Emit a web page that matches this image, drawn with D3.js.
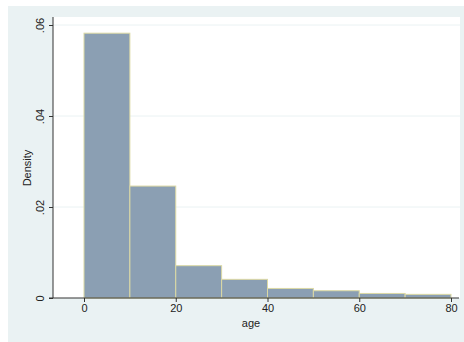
<!DOCTYPE html>
<html>
<head>
<meta charset="utf-8">
<script src="https://cdn.jsdelivr.net/npm/d3@7"></script>
<style>
  html, body { margin: 0; padding: 0; background: #ffffff; }
  svg { display: block; }
  text { font-family: "Liberation Sans", Arial, sans-serif; fill: #222; }
</style>
</head>
<body>
<svg id="chart" width="464" height="342"></svg>
<script>
// Histogram of age, bin width 10
const binStarts = [0, 10, 20, 30, 40, 50, 60, 70];
const binWidth = 10;
const densities = [0.0582, 0.0246, 0.0071, 0.0041, 0.0021, 0.0016, 0.0010, 0.0008];
const xTicks = [0, 20, 40, 60, 80];
const yTicks = [0, 0.02, 0.04, 0.06];
const yTickLabels = ["0", ".02", ".04", ".06"];
const xTitle = "age";
const yTitle = "Density";

const svg = d3.select("#chart");

const plot = { left: 53, right: 460, top: 17, bottom: 298 };

// graph background
svg.append("rect")
  .attr("x", 8).attr("y", 6).attr("width", 456).attr("height", 336)
  .attr("fill", "#eaf2f3");

// plot region
svg.append("rect")
  .attr("x", plot.left).attr("y", plot.top)
  .attr("width", plot.right - plot.left).attr("height", plot.bottom - plot.top)
  .attr("fill", "#ffffff");

const x = d3.scaleLinear().domain([0, 80]).range([84, 451]);
const y = d3.scaleLinear().domain([0, 0.06]).range([298, 25]);

// horizontal grid lines
svg.append("g")
  .selectAll("line")
  .data(yTicks.filter(d => d > 0))
  .join("line")
  .attr("x1", plot.left).attr("x2", plot.right)
  .attr("y1", d => y(d)).attr("y2", d => y(d))
  .attr("stroke", "#eaf2f3").attr("stroke-width", 1);

// bars
svg.append("g")
  .selectAll("rect")
  .data(binStarts.map((s, i) => ({ s, d: densities[i] })))
  .join("rect")
  .attr("x", d => x(d.s))
  .attr("y", d => y(d.d))
  .attr("width", d => x(d.s + binWidth) - x(d.s))
  .attr("height", d => y(0) - y(d.d))
  .attr("fill", "#8b9fb3")
  .attr("stroke", "#dcd9a4")
  .attr("stroke-width", 1);

// x axis
const xAxis = svg.append("g")
  .attr("transform", `translate(0,${plot.bottom})`)
  .call(d3.axisBottom(x).tickValues(xTicks).tickFormat(d3.format("d")).tickSize(4).tickPadding(2).tickSizeOuter(0));
xAxis.select(".domain").remove();
xAxis.append("line")
  .attr("x1", 49).attr("x2", 459).attr("y1", 0).attr("y2", 0)
  .attr("stroke", "#333");
xAxis.selectAll(".tick line").attr("stroke", "#333");
xAxis.selectAll(".tick text")
  .style("font-family", "Liberation Sans, Arial, sans-serif")
  .style("font-size", "11px").attr("fill", "#222");

// y axis
const yAxis = svg.append("g")
  .attr("transform", `translate(${plot.left},0)`)
  .call(d3.axisLeft(y).tickValues(yTicks).tickFormat((d, i) => yTickLabels[i]).tickSize(4).tickSizeOuter(0));
yAxis.select(".domain").remove();
yAxis.append("line")
  .attr("x1", 0).attr("x2", 0).attr("y1", plot.top).attr("y2", plot.bottom)
  .attr("stroke", "#333");
yAxis.selectAll(".tick line").attr("stroke", "#333");
yAxis.selectAll(".tick text")
  .attr("x", 0).attr("y", 0).attr("dy", null)
  .attr("text-anchor", "middle")
  .attr("transform", "translate(-9,0) rotate(-90)")
  .style("font-family", "Liberation Sans, Arial, sans-serif")
  .style("font-size", "11px").attr("fill", "#222");

// axis titles
svg.append("text")
  .attr("x", 251).attr("y", 327)
  .attr("text-anchor", "middle")
  .style("font-size", "11px")
  .text(xTitle);

svg.append("text")
  .attr("transform", "translate(31,168) rotate(-90)")
  .attr("text-anchor", "middle")
  .style("font-size", "11px")
  .text(yTitle);
</script>
</body>
</html>
